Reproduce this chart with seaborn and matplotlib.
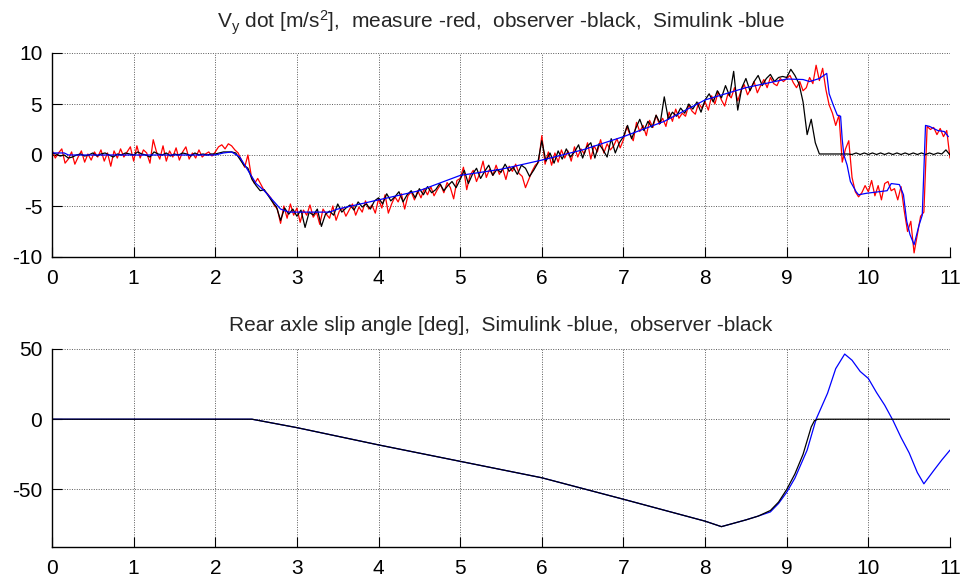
import numpy as np
import pandas as pd
import matplotlib
matplotlib.use("Agg")
import matplotlib.pyplot as plt
import seaborn as sns

# ---------------- data ----------------
# Top panel: lateral acceleration Vy dot [m/s^2]
# measured signal (red), sampled every 0.04 s from 0 to 11 s
red_meas = [
    # 0.00 - 0.96
    0.5, -0.3, 0.2, 0.6, -0.8, -0.4, 0.3, -0.9, -0.2, 0.4, -0.7, 0.1, -0.5, 0.3, -0.2, 0.5, -0.6, 0.2, -1.1, 0.4, -0.3, 0.6, -0.2, 0.3, 0.8,
    # 1.00 - 1.96
    -0.6, 0.9, -0.3, 0.5, 0.2, -0.8, 1.5, 0.3, -0.4, 0.9, -0.6, 0.4, -0.2, 0.7, -0.5, 0.3, 0.8, -0.4, 0.2, -0.3, 0.5, -0.2, 0.1, 0.3, -0.1,
    # 2.00 - 2.96
    0.3, 0.8, 1.0, 0.6, 1.1, 0.9, 0.5, 0.2, -0.5, -1.2, 0.0, -2.0, -2.8, -2.3, -2.9, -3.5, -3.8, -4.2, -4.9, -5.3, -6.7, -5.0, -6.2, -4.8, -5.9,
    # 3.00 - 3.96
    -5.2, -6.6, -5.4, -5.9, -4.9, -6.1, -5.6, -6.8, -5.3, -5.8, -6.2, -5.0, -6.4, -5.5, -5.2, -6.0, -5.4, -4.8, -5.9, -5.1, -5.6, -4.5, -5.3, -4.9, -5.7,
    # 4.00 - 4.96
    -4.3, -5.2, -3.9, -5.7, -4.8, -4.1, -4.6, -3.8, -5.3, -4.0, -3.6, -4.4, -3.5, -4.2, -3.3, -3.9, -3.1, -4.0, -3.4, -2.9, -3.7, -2.7, -3.2, -4.3, -2.5,
    # 5.00 - 5.96
    -2.3, -1.2, -3.4, -2.0, -1.5, -2.6, -1.8, -0.6, -2.2, -1.4, -2.0, -1.0, -1.9, -1.3, -2.4, -1.1, -1.6, -0.9, -1.8, -2.1, -3.2, -2.4, -1.6, -1.0, -0.7,
    # 6.00 - 6.96
    1.9, -0.9, 0.3, -1.0, 0.2, -0.7, 0.5, -0.3, 0.4, -0.6, 0.8, -0.2, 0.6, 0.1, 1.2, -0.4, 0.9, 0.3, 1.5, 0.2, 1.1, 0.5, 0.9, 1.6, 0.7,
    # 7.00 - 7.96
    1.5, 2.8, 2.0, 1.4, 3.2, 2.3, 2.9, 1.9, 3.4, 2.7, 3.9, 3.0, 3.6, 2.8, 4.2, 3.3, 4.5, 3.6, 4.1, 3.8, 4.9, 4.3, 4.0, 5.1, 4.6,
    # 8.00 - 8.96
    5.2, 4.4, 5.8, 5.0, 6.2, 5.4, 4.8, 6.0, 5.6, 6.6, 5.3, 6.3, 6.9, 5.9, 6.5, 7.2, 6.1, 6.8, 7.4, 6.6, 7.6, 7.0, 6.8, 7.5, 7.2,
    # 9.00 - 9.96
    7.5, 7.8, 7.1, 6.6, 7.2, 6.3, 6.6, 7.6, 7.0, 8.8, 7.3, 8.5, 6.4, 4.9, 4.1, 2.9, 3.9, -0.7, 0.6, 1.4, -2.2, -3.6, -4.1, -3.7, -3.0,
    # 10.00 - 10.96
    -3.6, -2.5, -4.0, -3.0, -4.4, -2.8, -2.6, -3.5, -3.3, -4.4, -3.1, -5.5, -7.5, -6.5, -9.6, -7.8, -6.0, -5.6, 2.8, 2.5, 2.7, 2.0, 2.6, 1.8, 2.4,
    # 11.00
    -0.3,
]

# observer estimate (black), sampled every 0.05 s from 0 to 11 s
black_obs = [
    # 0.00 - 0.95
    0.2, 0.1, -0.1, 0.0, -0.3, -0.2, 0.0, 0.1, -0.1, 0.0, 0.2, -0.1, 0.1, 0.2, 0.0, -0.2, 0.1, 0.0, 0.2, 0.1,
    # 1.00 - 1.95
    0.0, 0.3, 0.1, 0.0, -0.2, 0.3, 0.1, 0.0, 0.2, -0.1, 0.1, 0.0, 0.2, 0.1, -0.1, 0.2, 0.0, 0.1, 0.0, 0.1,
    # 2.00 - 2.95
    0.1, 0.2, 0.3, 0.3, 0.3, 0.2, -0.4, -1.0, -1.3, -2.4, -3.0, -3.5, -3.4, -4.0, -4.6, -5.1, -6.4, -5.2, -5.8, -5.3,
    # 3.00 - 3.95
    -6.0, -5.4, -7.1, -5.6, -5.9, -5.3, -7.0, -5.8, -5.5, -5.9, -4.8, -5.6, -5.2, -4.9, -5.4, -4.6, -5.1, -4.8, -5.3, -4.5,
    # 4.00 - 4.95
    -4.2, -4.8, -3.8, -4.5, -4.1, -3.6, -4.6, -3.9, -3.5, -4.2, -3.3, -3.9, -3.1, -3.7, -3.4, -2.8, -3.5, -3.0, -2.6, -3.2,
    # 5.00 - 5.95
    -2.4, -1.5, -2.8, -1.9, -1.3, -2.3, -1.6, -1.0, -2.0, -1.4, -1.7, -0.9, -1.6, -1.2, -1.9, -1.0, -1.3, -2.1, -1.5, -0.8,
    # 6.00 - 6.95
    1.4, -0.6, 0.2, -0.8, 0.4, -0.4, 0.6, -0.2, 0.3, 1.0, -0.3, 0.8, 1.2, -0.3, 1.1, 0.5, -0.2, 1.6, 0.2, 1.2,
    # 7.00 - 7.95
    1.8, 2.9, 1.6, 2.6, 3.5, 2.4, 3.3, 2.7, 3.9, 3.1, 5.7, 3.5, 4.2, 3.8, 4.6, 4.1, 5.0, 4.5, 5.2, 4.2,
    # 8.00 - 8.95
    5.4, 6.0, 5.2, 6.3, 5.6, 6.8, 5.8, 8.2, 4.4, 6.6, 7.5, 6.3, 7.2, 7.8, 6.8, 7.5, 7.9, 7.2, 7.6, 7.7,
    # 9.00 - 9.95
    7.6, 8.4, 7.8, 7.0, 5.2, 2.0, 3.5, 1.2, 0.1, 0.1, 0.1, 0.1, 0.1, 0.1, 0.1, 0.1, 0.05, 0.2, 0.05, 0.2,
    # 10.00 - 10.95
    0.05, 0.2, 0.05, 0.2, 0.05, 0.2, 0.05, 0.2, 0.05, 0.2, 0.05, 0.2, 0.05, 0.2, 0.05, 0.2, 0.05, 0.2, 0.1, 0.5,
    # 11.00
    0.0,
]

# Simulink model (blue), breakpoints
blue_sim_t = [0.0, 0.15, 0.2, 2.0, 2.1, 2.2, 2.3, 2.4, 2.5, 2.6, 2.7, 2.8, 2.9, 3.4, 3.5, 4.0,
              4.5, 5.0, 5.5, 6.0, 6.5, 7.0, 7.5, 8.0, 8.5, 9.0, 9.2, 9.28, 9.4, 9.49, 9.52,
              9.57, 9.62, 9.66, 9.68, 9.70, 9.74, 9.78, 9.85, 9.88, 9.98, 10.23, 10.28,
              10.38, 10.43, 10.47, 10.51, 10.56, 10.62, 10.66, 10.70, 10.75, 10.85, 10.93, 10.98]
blue_sim_v = [0.2, 0.2, 0.0, 0.0, 0.2, 0.3, -0.2, -1.5, -2.8, -3.5, -4.4, -5.3, -5.6, -5.6, -5.3, -4.4,
              -3.5, -2.0, -1.4, -0.5, 0.5, 1.8, 3.3, 5.4, 6.6, 7.45, 7.4, 7.2, 7.5, 8.0, 6.0,
              4.9, 3.9, 3.8, 1.5, 0.0, -1.0, -2.6, -3.6, -3.9, -3.75, -3.5, -2.8,
              -2.9, -3.9, -6.5, -7.8, -8.8, -6.9, -5.9, 2.9, 2.8, 2.4, 2.3, 1.8]

# Bottom panel: rear axle slip angle [deg]
slip_blue_t = [0.0, 2.45, 3.0, 4.0, 5.0, 6.0, 7.0, 8.0, 8.2, 8.5, 8.65, 8.8, 8.9, 9.0, 9.1,
               9.25, 9.36, 9.5, 9.6, 9.71, 9.8, 9.9, 10.0, 10.1, 10.2, 10.3, 10.4, 10.5,
               10.6, 10.68, 10.8, 10.9, 11.0]
slip_blue_v = [0.0, 0.0, -6.0, -18.3, -30.0, -41.7, -57.0, -72.6, -76.5, -71.7, -69.0, -66.0, -60.0, -52.0, -42.0,
               -22.0, 0.0, 18.5, 36.0, 46.4, 42.0, 34.0, 29.0, 19.0, 10.0, -0.7, -13.0, -24.0,
               -38.0, -46.0, -36.6, -29.0, -22.0]
slip_black_t = [0.0, 2.45, 3.0, 4.0, 5.0, 6.0, 7.0, 8.0, 8.2, 8.5, 8.65, 8.8, 8.9, 9.0, 9.1,
                9.2, 9.3, 9.34, 9.38, 11.0]
slip_black_v = [0.0, 0.0, -6.0, -18.3, -30.0, -41.7, -57.0, -72.6, -76.5, -71.7, -69.0, -65.0, -59.0, -50.0, -39.0,
                -25.0, -5.5, -1.0, 0.0, 0.0]

x_ticks = list(range(0, 12))
top_yticks = [-10, -5, 0, 5, 10]
bot_yticks = [-50, 0, 50]

title_top = (r"V$_{\mathregular{y}}$ dot [m/s$^{\mathregular{2}}$],  measure -red,  "
             r"observer -black,  Simulink -blue")
title_bot = "Rear axle slip angle [deg],  Simulink -blue,  observer -black"

# ---------------- style ----------------
sns.set_style("white")
plt.rcParams["font.family"] = ["Liberation Sans", "DejaVu Sans"]
plt.rcParams["mathtext.fontset"] = "custom"
plt.rcParams["mathtext.rm"] = "Liberation Sans"
plt.rcParams["mathtext.it"] = "Liberation Sans:italic"
plt.rcParams["axes.unicode_minus"] = False

df_red = pd.DataFrame({"t": np.linspace(0, 11, len(red_meas)), "v": red_meas})
df_black = pd.DataFrame({"t": np.linspace(0, 11, len(black_obs)), "v": black_obs})
df_blue = pd.DataFrame({"t": blue_sim_t, "v": blue_sim_v})
df_sb = pd.DataFrame({"t": slip_blue_t, "v": slip_blue_v})
df_sk = pd.DataFrame({"t": slip_black_t, "v": slip_black_v})

fig = plt.figure(figsize=(9.68, 5.82), dpi=100)
ax1 = fig.add_axes([52 / 968, 1 - 257 / 582, 898 / 968, 204 / 582])
ax2 = fig.add_axes([52 / 968, 1 - 547 / 582, 898 / 968, 198 / 582])

lw = 0.9
kw = dict(x="t", y="v", estimator=None, sort=False, legend=False)
sns.lineplot(data=df_red, color="#ff0000", linewidth=lw, ax=ax1, **kw)
sns.lineplot(data=df_black, color="#000000", linewidth=lw, ax=ax1, **kw)
sns.lineplot(data=df_blue, color="#0000ff", linewidth=lw, ax=ax1, **kw)

sns.lineplot(data=df_sb, color="#0000ff", linewidth=lw, ax=ax2, **kw)
sns.lineplot(data=df_sk, color="#000000", linewidth=lw, ax=ax2, **kw)

for ax, yt, ylim in ((ax1, top_yticks, (-10, 10)), (ax2, bot_yticks, (-91, 50))):
    ax.set_xlim(0, 11)
    ax.set_ylim(*ylim)
    ax.set_xticks(x_ticks)
    ax.set_yticks(yt)
    ax.set_xlabel("")
    ax.set_ylabel("")
    ax.grid(True, color="0.35", linestyle=(0, (1, 1.5)), linewidth=0.7)
    ax.set_axisbelow(True)
    for s in ("top", "right"):
        ax.spines[s].set_visible(False)
    for s in ("left", "bottom"):
        ax.spines[s].set_color("black")
        ax.spines[s].set_linewidth(1.0)
    ax.tick_params(axis="both", direction="in", length=7, width=0.8,
                   labelsize=15, colors="black",
                   bottom=True, left=True, top=False, right=False)
    ax.tick_params(axis="x", pad=9)
    ax.tick_params(axis="y", pad=7)

ax1.set_title(title_top, fontsize=15, pad=17.5)
ax2.set_title(title_bot, fontsize=15, pad=13.2)

fig.savefig("out.png", dpi=100)
